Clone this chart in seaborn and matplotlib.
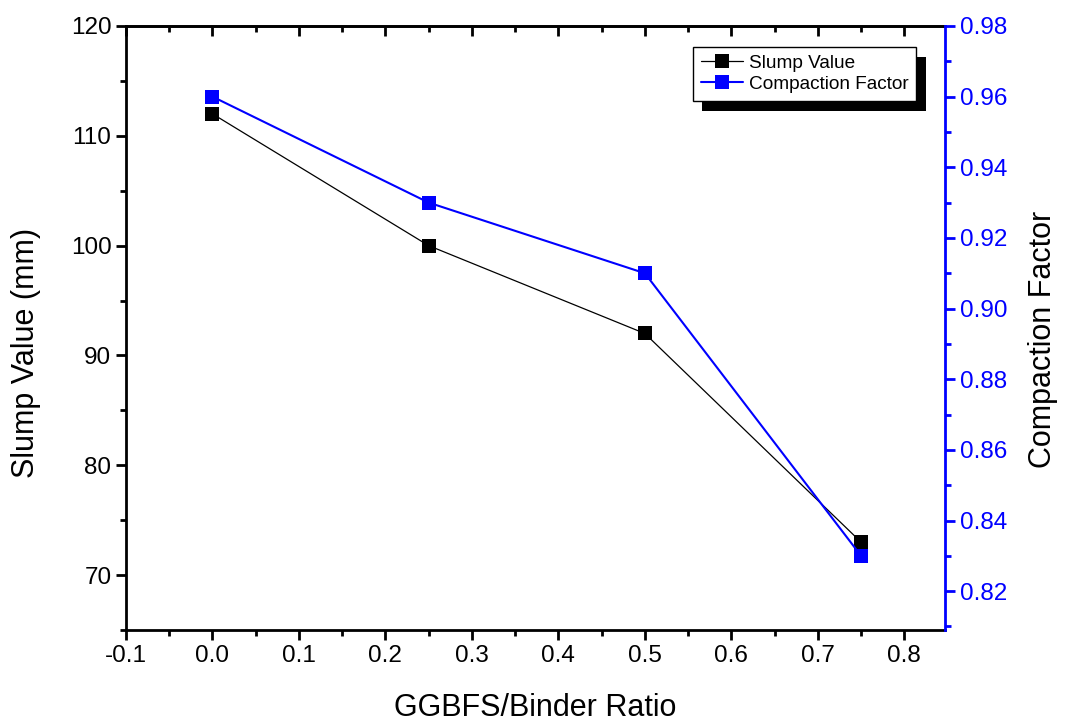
import matplotlib
matplotlib.use("Agg")
import matplotlib.pyplot as plt
import matplotlib.patheffects as pe
import seaborn as sns
import pandas as pd
from matplotlib.ticker import MultipleLocator, AutoMinorLocator

ratio = [0.0, 0.25, 0.5, 0.75]
slump = [112, 100, 92, 73]
compaction = [0.96, 0.93, 0.91, 0.83]

sns.set_theme(style="white", rc={"text.color": "black", "axes.labelcolor": "black",
                                 "xtick.color": "black", "ytick.color": "black",
                                 "axes.unicode_minus": False})
plt.rcParams['font.family'] = ['Liberation Sans', 'DejaVu Sans']

df = pd.DataFrame({"ratio": ratio, "slump": slump, "cf": compaction})
blue = "#0000ff"

fig = plt.figure(figsize=(10.65, 7.22), dpi=100)
ax = fig.add_axes([0.1183, 0.1274, 0.769, 0.8366])
ax2 = ax.twinx()

sns.lineplot(data=df, x="ratio", y="slump", ax=ax, color="black", lw=0.9,
             marker="s", markersize=10, markeredgewidth=0, label="Slump Value", legend=False)
sns.lineplot(data=df, x="ratio", y="cf", ax=ax2, color=blue, lw=1.5,
             marker="s", markersize=10, markeredgewidth=0, label="Compaction Factor", legend=False)

ax.set_xlim(-0.1, 0.847)
ax.set_ylim(65, 120)
ax2.set_ylim(0.809, 0.98)

ax.xaxis.set_major_locator(MultipleLocator(0.1))
ax.xaxis.set_minor_locator(AutoMinorLocator(2))
ax.yaxis.set_major_locator(MultipleLocator(10))
ax.yaxis.set_minor_locator(AutoMinorLocator(2))
ax2.yaxis.set_major_locator(MultipleLocator(0.02))
ax2.yaxis.set_minor_locator(AutoMinorLocator(2))
ax2.yaxis.set_major_formatter(plt.FormatStrFormatter('%.2f'))

for s in ax.spines.values():
    s.set_linewidth(2)
    s.set_color("black")
ax.spines["right"].set_visible(False)
for name, s in ax2.spines.items():
    s.set_visible(name == "right")
ax2.spines["right"].set_color(blue)
ax2.spines["right"].set_linewidth(2)

ax.tick_params(axis="both", which="major", direction="out", length=7, width=2,
               labelsize=17.5, color="black", left=True, bottom=True)
ax.tick_params(axis="both", which="minor", direction="out", length=4.5, width=2,
               left=True, bottom=True)
ax2.tick_params(axis="y", which="major", direction="out", length=7, width=2,
                labelsize=17.5, colors=blue, right=True)
ax2.tick_params(axis="y", which="minor", direction="out", length=4.5, width=2,
                color=blue, right=True)

top = ax.secondary_xaxis("top")
top.xaxis.set_major_locator(MultipleLocator(0.1))
top.xaxis.set_minor_locator(AutoMinorLocator(2))
top.tick_params(which="major", direction="in", length=7, width=2, labeltop=False, top=True)
top.tick_params(which="minor", direction="in", length=4.5, width=2, top=True)
top.spines["top"].set_linewidth(2)

ax.set_xlabel("GGBFS/Binder Ratio", fontsize=22, labelpad=19)
ax.set_ylabel("Slump Value (mm)", fontsize=22)
ax2.set_ylabel("Compaction Factor", fontsize=22)
ax.yaxis.set_label_coords(-0.104, 0.459)
ax2.yaxis.set_label_coords(1.101, 0.482)

h1, l1 = ax.get_legend_handles_labels()
h2, l2 = ax2.get_legend_handles_labels()
leg = ax2.legend(h1 + h2, l1 + l2, loc="upper right", bbox_to_anchor=(0.965, 0.966),
                 fontsize=13.7, frameon=True, fancybox=False, shadow=False,
                 handlelength=2.2, handletextpad=0.3, borderpad=0.42, labelspacing=0.2,
                 borderaxespad=0)
frame = leg.get_frame()
frame.set_edgecolor("black")
frame.set_linewidth(1)
frame.set_alpha(1)
frame.set_path_effects([pe.SimplePatchShadow(offset=(6.8, -7.2), shadow_rgbFace="black", alpha=1),
                        pe.Normal()])

fig.savefig("out.png", dpi=100)
